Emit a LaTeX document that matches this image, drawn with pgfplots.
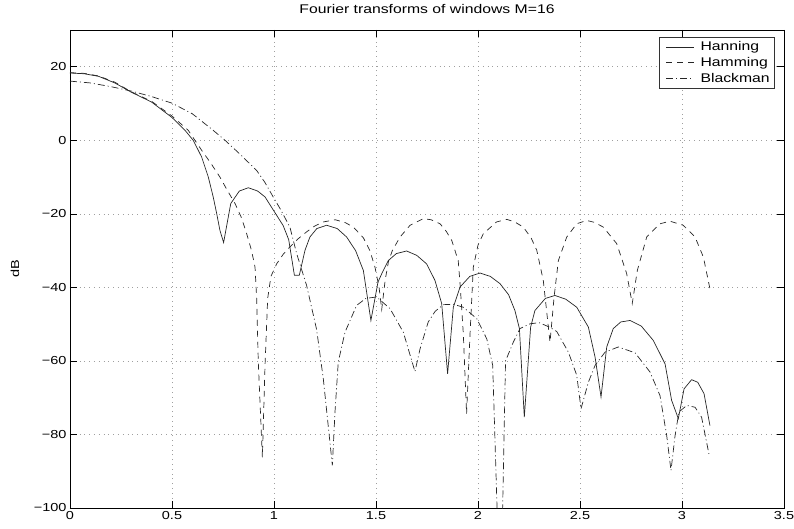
\documentclass[border=0pt]{standalone}
\usepackage{fontspec}
\setmainfont[FakeStretch=1.25]{Liberation Sans}
\usepackage{pgfplots}
\pgfplotsset{compat=1.18}

\begin{document}
\begin{tikzpicture}
\useasboundingbox (-70pt,-20pt) rectangle (724pt,508pt);
\begin{axis}[
    at={(0pt,0pt)}, anchor=south west,
    scale only axis, width=714pt, height=478pt,
    xmin=0, xmax=3.5, ymin=-100, ymax=30,
    xtick={0,0.5,...,3.5},
    xticklabels={0,0.5,1,1.5,2,2.5,3,3.5},
    ytick={-100,-80,-60,-40,-20,0,20},
    yticklabels={−100,−80,−60,−40,−20,0,20},
    tick label style={font=\fontsize{11.6}{13}\selectfont},
    tick align=inside, tick pos=both, major tick length=7pt,
    axis line style={line width=0.8pt},
    every tick/.style={black, line width=0.6pt},
    grid=major,
    grid style={gray!75, line width=0.6pt, dash pattern=on 0.8pt off 4pt},
    title={Fourier transforms of windows M=16},
    title style={font=\fontsize{12.6}{14}\selectfont, at={(0.5,1)}, anchor=south, yshift=7pt},
    ylabel={dB},
    ylabel style={font=\fontsize{11.6}{13}\selectfont, at={(axis description cs:-0.066,0.5)}, anchor=south},
    legend style={at={(1,1)}, anchor=north east, xshift=-9pt, yshift=-7pt,
        draw=black!80, line width=0.6pt, fill=white,
        font=\fontsize{12.6}{14}\selectfont, row sep=1pt,
        inner xsep=3pt, inner ysep=2.5pt, cells={anchor=west}},
    legend image code/.code={\path (-4pt,0pt) (32pt,0pt); \draw[#1] (0pt,0pt) -- (28pt,0pt);},
]
% Hanning
\addplot[black!85, line width=0.7pt] coordinates {
(0,18.3)(0.07,18.1)(0.14,17.4)(0.22,15.6)(0.30,13.1)(0.40,10.4)(0.50,6.2)(0.564,2.7)(0.604,0)
(0.645,-4.5)(0.678,-10)(0.702,-15.4)(0.719,-19.9)(0.735,-24.5)(0.753,-27.8)(0.788,-17.2)
(0.83,-13.8)(0.874,-12.9)(0.92,-13.8)(0.956,-15.4)(0.997,-19.0)(1.045,-23.2)(1.072,-27.0)
(1.100,-36.7)(1.124,-36.7)(1.152,-29.9)(1.176,-26.3)(1.21,-24.0)(1.258,-23.1)(1.31,-24.0)
(1.356,-26.3)(1.40,-30.0)(1.438,-35.4)(1.475,-49.0)(1.51,-38.5)(1.528,-36.3)(1.56,-32.7)
(1.60,-30.8)(1.65,-30.1)(1.70,-31.3)(1.748,-33.6)(1.789,-38.1)(1.822,-44.4)(1.851,-63.5)
(1.879,-45.4)(1.912,-39.9)(1.96,-37.0)(2.01,-36.1)(2.06,-37.0)(2.108,-39.0)(2.15,-42.0)
(2.181,-46.3)(2.203,-51.2)(2.227,-75.3)(2.258,-50.8)(2.279,-46.3)(2.33,-43.0)(2.377,-42.2)
(2.43,-43.2)(2.484,-45.4)(2.541,-50.8)(2.574,-59.0)(2.603,-69.8)(2.631,-56.2)(2.663,-51.2)
(2.70,-49.4)(2.745,-49.0)(2.80,-50.5)(2.859,-54.4)(2.917,-60.8)(2.949,-70.7)(2.982,-75.7)
(3.010,-67.6)(3.047,-65.1)(3.077,-65.8)(3.108,-68.9)(3.137,-77.6)
};
\addlegendentry{Hanning}
% Hamming
\addplot[black!85, line width=0.7pt, dash pattern=on 6pt off 5pt] coordinates {
(0,18.4)(0.07,18.2)(0.14,17.5)(0.22,15.8)(0.30,13.2)(0.40,10.6)(0.50,6.6)(0.58,2.7)(0.645,-2.7)
(0.69,-6.2)(0.735,-10)(0.77,-13.5)(0.809,-17.2)(0.84,-21)(0.866,-25.4)(0.89,-30)(0.907,-34.5)
(0.915,-43)(0.923,-60.3)(0.943,-86.2)(0.956,-61.2)(0.969,-43)(0.985,-37)(1.013,-33.6)
(1.045,-31)(1.078,-29)(1.12,-26.7)(1.160,-24.9)(1.20,-23.3)(1.242,-22.2)(1.30,-21.6)
(1.35,-22.4)(1.389,-23.6)(1.438,-26.5)(1.47,-30)(1.495,-34.5)(1.515,-40)(1.528,-46)
(1.545,-38)(1.561,-33)(1.58,-30)(1.618,-26.3)(1.667,-23.1)(1.732,-21.3)(1.77,-21.6)
(1.814,-22.7)(1.845,-24.8)(1.871,-27.2)(1.903,-32.7)(1.912,-39)(1.928,-52.6)(1.944,-74.4)
(1.961,-52.6)(1.977,-34.5)(2.00,-28.5)(2.026,-25.4)(2.091,-22.2)(2.141,-21.5)(2.18,-22.2)
(2.222,-23.6)(2.26,-26.5)(2.288,-29.9)(2.320,-38.1)(2.353,-54.9)(2.373,-42.6)(2.394,-32.7)
(2.435,-26.3)(2.484,-22.7)(2.533,-21.8)(2.57,-22.3)(2.614,-23.6)(2.680,-28.1)(2.729,-36.3)
(2.756,-44.4)(2.781,-35.4)(2.827,-26.3)(2.892,-22.7)(2.941,-22.0)(3.006,-23.1)(3.064,-26.3)
(3.105,-31.8)(3.137,-40.4)
};
\addlegendentry{Hamming}
% Blackman
\addplot[black!85, line width=0.7pt, dash pattern=on 7pt off 3pt on 1pt off 3pt] coordinates {
(0,16.1)(0.1,15.6)(0.2,14.6)(0.3,13.4)(0.4,11.9)(0.5,10.1)(0.6,7.2)(0.7,2.8)(0.76,0)
(0.83,-3.6)(0.915,-8.2)(0.956,-11.5)(0.997,-15.5)(1.029,-18.5)(1.078,-23.6)(1.111,-30.8)
(1.160,-39.5)(1.209,-51.5)(1.242,-65)(1.286,-88.4)(1.299,-73.9)(1.315,-60.3)(1.348,-52.2)
(1.405,-44.9)(1.45,-43)(1.503,-42.6)(1.569,-45.8)(1.634,-52.2)(1.691,-62.9)(1.716,-56.7)
(1.756,-49.4)(1.79,-46.5)(1.830,-44.7)(1.88,-44.6)(1.928,-45.4)(1.994,-48.5)(2.043,-54)
(2.072,-61.2)(2.11,-130)(2.135,-60)(2.173,-54.9)(2.206,-51.2)(2.255,-49.9)(2.30,-49.6)
(2.35,-50.8)(2.386,-52)(2.443,-57.6)(2.484,-63.9)(2.505,-73)(2.541,-65.8)(2.574,-61.2)
(2.623,-57.6)(2.688,-56.2)(2.770,-57.8)(2.843,-63)(2.892,-69.4)(2.925,-80.3)(2.946,-89.8)
(2.966,-80.3)(2.985,-73.9)(3.023,-72.1)(3.064,-72.6)(3.096,-75.3)(3.132,-85.3)
};
\addlegendentry{Blackman}
\end{axis}
\end{tikzpicture}
\end{document}
